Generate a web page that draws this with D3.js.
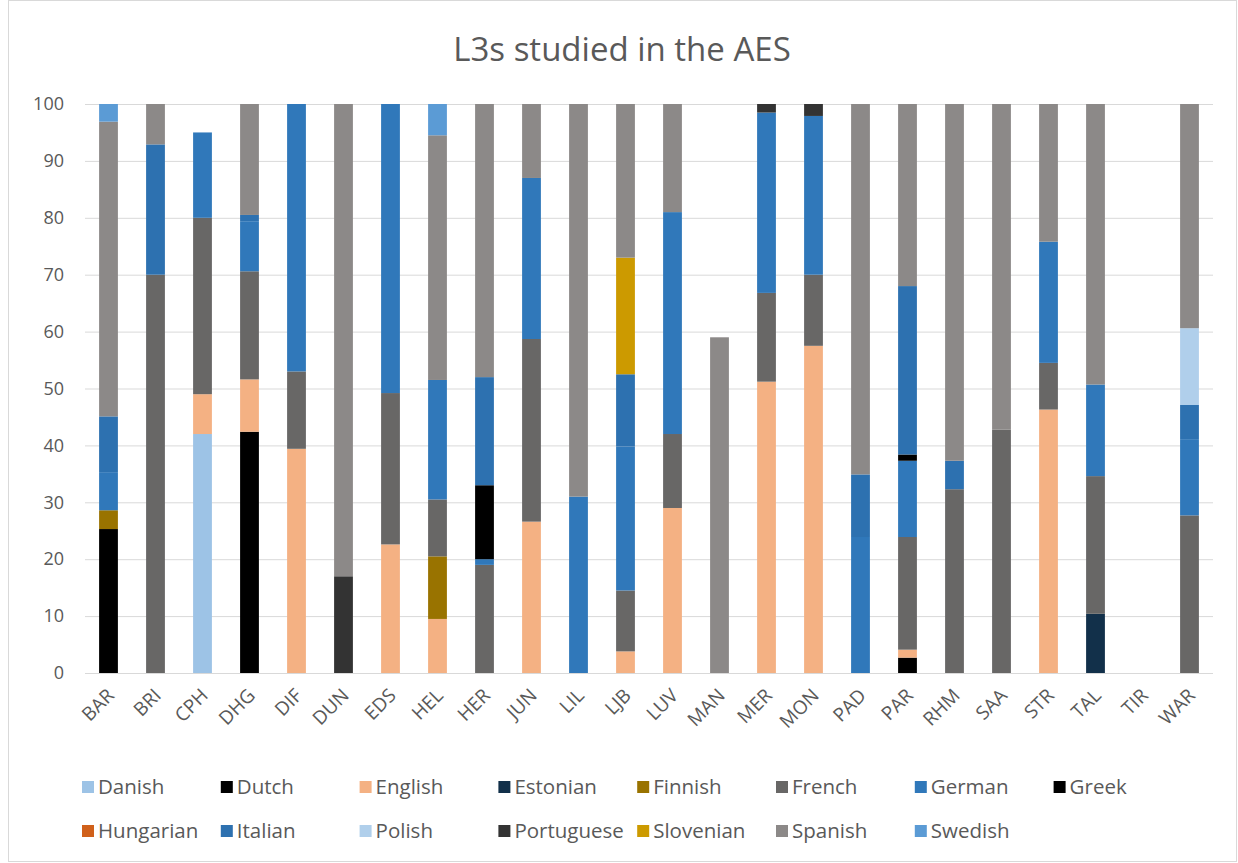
<!DOCTYPE html>
<html>
<head>
<meta charset="utf-8">
<script src="https://cdn.jsdelivr.net/npm/d3@7"></script>
<style>
  body { margin: 0; background: #fff; }
  svg { font-family: "Open Sans", "Noto Sans", sans-serif; }
</style>
</head>
<body>
<svg width="1238" height="863"></svg>
<script>
// categories (sites)
var sites = ["BAR", "BRI", "CPH", "DHG", "DIF", "DUN", "EDS", "HEL", "HER", "JUN", "LIL", "LJB",
    "LUV", "MAN", "MER", "MON", "PAD", "PAR", "RHM", "SAA", "STR", "TAL", "TIR", "WAR"];

// one array per language, same order as sites
var danish     = [0, 0, 42, 0, 0, 0, 0, 0, 0, 0, 0, 0, 0, 0, 0, 0, 0, 0, 0, 0, 0, 0, 0, 0];
var dutch      = [25.3, 0, 0, 42.4, 0, 0, 0, 0, 0, 0, 0, 0, 0, 0, 0, 0, 0, 2.7, 0, 0, 0, 0, 0, 0];
var english    = [0, 0, 7, 9.2, 39.4, 0, 22.6, 9.5, 0, 26.6, 0, 3.8, 29, 0, 51.2, 57.5, 0, 1.4, 0, 0, 46.3, 0, 0, 0];
var estonian   = [0, 0, 0, 0, 0, 0, 0, 0, 0, 0, 0, 0, 0, 0, 0, 0, 0, 0, 0, 0, 0, 10.4, 0, 0];
var finnish    = [3.3, 0, 0, 0, 0, 0, 0, 11, 0, 0, 0, 0, 0, 0, 0, 0, 0, 0, 0, 0, 0, 0, 0, 0];
var french     = [0, 70, 31, 19, 13.6, 0, 26.6, 10, 19, 32.1, 0, 10.7, 13, 0, 15.6, 12.5, 0, 19.8, 32.3, 42.8, 8.2, 24.2, 0, 27.7];
var german     = [6.7, 0, 15, 8.8, 47, 0, 50.8, 21, 1, 28.3, 31, 25.3, 39, 0, 31.7, 27.9, 23.9, 13.4, 0, 0, 21.3, 16.1, 0, 13.4];
var greek      = [0, 0, 0, 0, 0, 0, 0, 0, 13, 0, 0, 0, 0, 0, 0, 0, 0, 1.1, 0, 0, 0, 0, 0, 0];
var hungarian  = [0, 0, 0, 0, 0, 0, 0, 0, 0, 0, 0, 0, 0, 0, 0, 0, 0, 0, 0, 0, 0, 0, 0, 0];
var italian    = [9.8, 22.9, 0, 1.1, 0, 0, 0, 0, 19, 0, 0, 12.7, 0, 0, 0, 0, 11, 29.6, 5, 0, 0, 0, 0, 6];
var polish     = [0, 0, 0, 0, 0, 0, 0, 0, 0, 0, 0, 0, 0, 0, 0, 0, 0, 0, 0, 0, 0, 0, 0, 13.5];
var portuguese = [0, 0, 0, 0, 0, 17, 0, 0, 0, 0, 0, 0, 0, 0, 1.5, 2.1, 0, 0, 0, 0, 0, 0, 0, 0];
var slovenian  = [0, 0, 0, 0, 0, 0, 0, 0, 0, 0, 0, 20.5, 0, 0, 0, 0, 0, 0, 0, 0, 0, 0, 0, 0];
var spanish    = [51.8, 7.1, 0, 19.5, 0, 83, 0, 43, 48, 13, 69, 27, 19, 59, 0, 0, 65.1, 32, 62.7, 57.2, 24.2, 49.3, 0, 39.4];
var swedish    = [3.1, 0, 0, 0, 0, 0, 0, 5.5, 0, 0, 0, 0, 0, 0, 0, 0, 0, 0, 0, 0, 0, 0, 0, 0];

var languages = ["Danish", "Dutch", "English", "Estonian", "Finnish", "French", "German", "Greek",
    "Hungarian", "Italian", "Polish", "Portuguese", "Slovenian", "Spanish", "Swedish"];
var series = [danish, dutch, english, estonian, finnish, french, german, greek,
    hungarian, italian, polish, portuguese, slovenian, spanish, swedish];
var colors = ["#9dc3e6", "#000000", "#f4b183", "#12304a", "#997300", "#686766", "#3078ba", "#000000",
    "#d0601a", "#2d71b0", "#b0cfeb", "#333333", "#cc9a00", "#8c8988", "#5b9bd5"];

var yTicks = [0, 10, 20, 30, 40, 50, 60, 70, 80, 90, 100];

var svg = d3.select("svg");
var textColor = "#595959";

// build rows for d3.stack
var rows = sites.map(function (s, i) {
    var r = { site: s };
    languages.forEach(function (l, j) { r[l] = series[j][i]; });
    return r;
});
var stacked = d3.stack().keys(languages)(rows);

var x = d3.scaleBand().domain(sites).range([85, 1213]).paddingInner(0.6).paddingOuter(0.3);
var y = d3.scaleLinear().domain([0, 100]).range([673, 104]);
var color = d3.scaleOrdinal().domain(languages).range(colors);

// chart border
svg.append("rect")
    .attr("x", 8.5).attr("y", 0.5)
    .attr("width", 1228).attr("height", 861)
    .attr("fill", "none")
    .attr("stroke", "#d9d9d9");

// title
svg.append("text")
    .attr("x", 622).attr("y", 61)
    .attr("text-anchor", "middle")
    .attr("fill", textColor)
    .style("font-size", "33px")
    .text("L3s studied in the AES");

// gridlines + y labels
var yAxis = svg.append("g")
    .attr("transform", "translate(85,0)")
    .call(d3.axisLeft(y).tickValues(yTicks).tickSize(-1128).tickPadding(21));
yAxis.select(".domain").remove();
yAxis.selectAll(".tick line").attr("stroke", "#d9d9d9");
yAxis.selectAll(".tick text")
    .attr("fill", textColor)
    .style("font-size", "18px")
    .style("font-family", "\"Open Sans\", sans-serif");

// bars
svg.append("g")
    .selectAll("g")
    .data(stacked)
    .enter().append("g")
    .attr("fill", function (d) { return color(d.key); })
    .selectAll("rect")
    .data(function (d) { return d; })
    .enter().append("rect")
    .filter(function (d) { return d[1] - d[0] > 0; })
    .attr("x", function (d) { return x(d.data.site); })
    .attr("y", function (d) { return y(d[1]); })
    .attr("width", x.bandwidth())
    .attr("height", function (d) { return y(d[0]) - y(d[1]); });

// x labels, rotated
svg.append("g")
    .selectAll("text")
    .data(sites)
    .enter().append("text")
    .attr("transform", function (d) {
        return "translate(" + (x(d) + x.bandwidth() / 2 + 2) + ",692) rotate(-45)";
    })
    .attr("text-anchor", "end")
    .attr("dy", "0.35em")
    .attr("fill", textColor)
    .style("font-size", "19px")
    .text(function (d) { return d; });

// legend, 2 rows of 8
var legend = svg.append("g")
    .selectAll("g")
    .data(languages)
    .enter().append("g")
    .attr("transform", function (d, i) {
        return "translate(" + (82 + (i % 8) * 138.8) + "," + (787 + Math.floor(i / 8) * 44) + ")";
    });
legend.append("rect")
    .attr("x", 0).attr("y", -6)
    .attr("width", 12).attr("height", 12)
    .attr("fill", function (d) { return color(d); });
legend.append("text")
    .attr("x", 16)
    .attr("dy", "0.35em")
    .attr("fill", textColor)
    .style("font-size", "20.5px")
    .text(function (d) { return d; });
</script>
</body>
</html>
